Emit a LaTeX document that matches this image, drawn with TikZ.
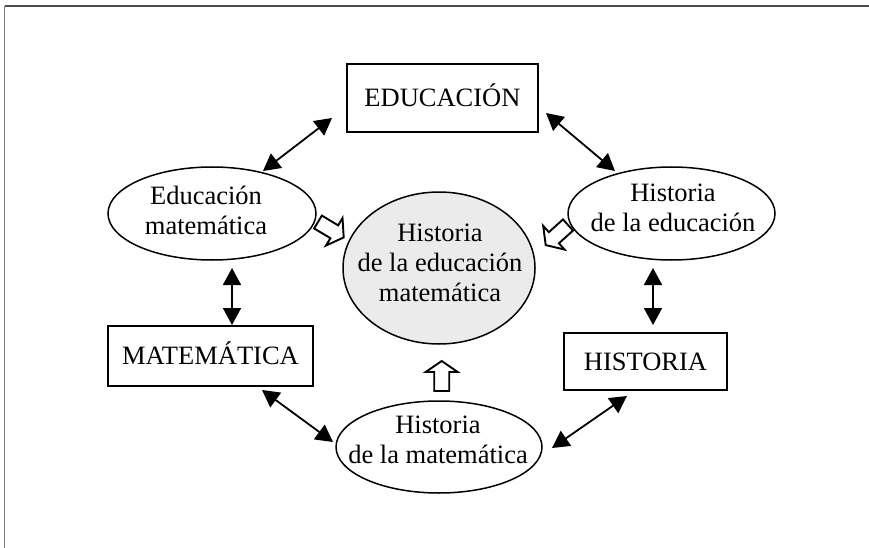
\documentclass[tikz,border=0pt]{standalone}
\usepackage{fontspec}
\setmainfont{Liberation Serif}
\usetikzlibrary{shapes.geometric,arrows.meta}
\definecolor{fillgray}{HTML}{EBEBEB}
\definecolor{framegray}{HTML}{4A4A4A}
\begin{document}
\begin{tikzpicture}[x=1pt,y=-1pt,
  box/.style={draw, line width=1.5pt, rectangle, inner sep=0pt, text height=17pt, text depth=0pt, font=\fontsize{26.5}{30}\selectfont},
  oval/.style={draw, line width=1.5pt, ellipse, inner sep=0pt},
  lbl/.style={align=center, font=\fontsize{26.5}{30}\selectfont, inner sep=0pt},
  dbl/.style={{Triangle[length=17pt,width=18pt]}-{Triangle[length=17pt,width=18pt]}, line width=1.8pt},
  blockarr/.pic={\draw[line width=1.9pt, fill=white, line join=miter] (0,-7.5) -- (19,-7.5) -- (19,-16) -- (30,0) -- (19,16) -- (19,7.5) -- (0,7.5) -- cycle;}
]
\useasboundingbox (0,0) rectangle (869,548);
% frame
\draw[framegray, line width=1.3pt] (4.5,6) -- (869,6);
\draw[framegray!70, line width=0.8pt] (4.5,548) -- (4.5,6);

% boxes
\node[box, minimum width=191pt, minimum height=68pt] (edu) at (442.5,98) {EDUCACIÓN};
\node[box, minimum width=205pt, minimum height=60pt] (mat) at (210.5,356) {MATEMÁTICA};
\node[box, minimum width=163pt, minimum height=57pt] (his) at (645.5,361.5) {HISTORIA};

% ellipses
\node[oval, minimum width=208pt, minimum height=93pt] (em) at (212,213.5) {};
\node[oval, minimum width=207pt, minimum height=93pt] (he) at (671.5,213.5) {};
\node[oval, fill=fillgray, minimum width=192pt, minimum height=152pt] (hem) at (439,268) {};
\node[oval, minimum width=206pt, minimum height=92pt] (hm) at (439,447) {};

% ellipse texts
\node[lbl] (emt) at (206,210.6) {Educación\\matemática};
\node[lbl] (het) at (673,207.8) {Historia\\de la educación};
\node[lbl] (hemt) at (440,262.8) {Historia\\de la educación\\matemática};
\node[lbl] (hmt) at (438,439.5) {Historia\\de la matemática};

% double arrows
\coordinate (a1) at (332,118); \coordinate (a2) at (263,171);
\coordinate (b1) at (546,113); \coordinate (b2) at (615,171);
\coordinate (c1) at (232,268); \coordinate (c2) at (232,325);
\coordinate (d1) at (653,268); \coordinate (d2) at (653,325);
\coordinate (e1) at (262,390); \coordinate (e2) at (333,442);
\coordinate (f1) at (627,396); \coordinate (f2) at (552,448);
\draw[dbl] (a1) -- (a2);
\draw[dbl] (b1) -- (b2);
\draw[dbl] (c1) -- (c2);
\draw[dbl] (d1) -- (d2);
\draw[dbl] (e1) -- (e2);
\draw[dbl] (f1) -- (f2);

% hollow block arrows
\pic[rotate=-31] at (318,222) {blockarr};
\pic[rotate=-138] at (568,225) {blockarr};
\pic[rotate=90] at (441.7,391) {blockarr};
\end{tikzpicture}
\end{document}
